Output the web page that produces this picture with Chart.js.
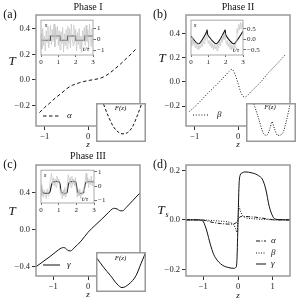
<!DOCTYPE html>
<html><head><meta charset="utf-8">
<script src="https://cdn.jsdelivr.net/npm/chart.js@4/dist/chart.umd.min.js"></script>
<style>
html,body{margin:0;padding:0;background:#fff;width:300px;height:300px;overflow:hidden}
#root{position:relative;width:300px;height:300px}
canvas{position:absolute;display:block}
</style></head><body>
<div id="root"></div>
<script>
// ---------- main panels ----------
const zA = [-1.12,-1.0,-0.88,-0.75,-0.6,-0.49,-0.35,-0.2,-0.11,0,0.15,0.28,0.42,0.58,0.75,0.89,1.0,1.1];
const tA = [-0.255,-0.215,-0.18,-0.14,-0.1,-0.068,-0.04,-0.022,-0.013,-0.005,0.004,0.013,0.035,0.075,0.125,0.17,0.205,0.24];
const zB = [-1.12,-0.9,-0.7,-0.5,-0.3,-0.2,-0.145,-0.1,-0.05,0,0.05,0.1,0.16,0.22,0.3,0.5,0.7,0.9,1.09];
const tB = [-0.245,-0.17,-0.095,-0.025,0.05,0.09,0.105,0.09,0.045,-0.01,-0.07,-0.11,-0.125,-0.11,-0.08,-0.01,0.075,0.15,0.225];
const zC = [-1.5,-1.3,-1.1,-0.95,-0.85,-0.76,-0.7,-0.64,-0.57,-0.5,-0.4,-0.2,0,0.2,0.4,0.6,0.7,0.76,0.85,0.93,1.0,1.1,1.3,1.5];
const tC = [-0.405,-0.35,-0.295,-0.25,-0.22,-0.2,-0.196,-0.205,-0.23,-0.232,-0.2,-0.125,-0.03,0.045,0.115,0.19,0.225,0.232,0.222,0.205,0.205,0.24,0.32,0.40];
const zD = [-1.5,-1.2,-1.05,-1.0,-0.9,-0.8,-0.7,-0.6,-0.5,-0.4,-0.3,-0.2,-0.12,-0.06,-0.03,0,0.03,0.06,0.12,0.2,0.3,0.4,0.5,0.6,0.7,0.8,0.9,1.0,1.05,1.2,1.5];
const alphaD = [0,0,0,-0.001,-0.004,-0.008,-0.011,-0.013,-0.015,-0.016,-0.017,-0.017,-0.016,-0.012,-0.008,0,0.008,0.012,0.014,0.014,0.013,0.012,0.011,0.009,0.007,0.005,0.003,0.001,0,0,0];
const betaD = [0,0,0,0,-0.001,-0.002,-0.003,-0.004,-0.005,-0.006,-0.008,-0.012,-0.02,-0.04,-0.05,0,0.055,0.04,0.02,0.01,0.006,0.005,0.004,0.003,0.002,0.002,0.001,0,0,0,0];
const gammaD = [0,0,-0.002,-0.007,-0.045,-0.098,-0.14,-0.163,-0.178,-0.187,-0.192,-0.195,-0.196,-0.192,-0.16,-0.01,0.14,0.18,0.19,0.194,0.193,0.19,0.186,0.178,0.165,0.125,0.055,0.015,0.005,0.001,0];

const xTicksAB = [-1,0], xLabelsAB = ['\u22121','0'];
const xTicksC = [-1,0], xLabelsC = ['\u22121','0'];
const xTicksD = [-1,0,1], xLabelsD = ['\u22121','0','1'];
const yTicksAB = [-0.2,0,0.2,0.4], yLabelsAB = ['\u22120.2','0.0','0.2','0.4'];
const yTicksC = [-0.4,0,0.4], yLabelsC = ['\u22120.4','0.0','0.4'];
const yTicksD = [-0.2,0,0.2], yLabelsD = ['\u22120.2','0.0','0.2'];

// ---------- time-series insets ----------
const tNoise = [0,0.05,0.1,0.15,0.2,0.25,0.3,0.35,0.4,0.45,0.5,0.55,0.6,0.65,0.7,0.75,0.8,0.85,0.9,0.95,1,1.05,1.1,1.15,1.2,1.25,1.3,1.35,1.4,1.45,1.5,1.55,1.6,1.65,1.7,1.75,1.8,1.85,1.9,1.95,2,2.05,2.1,2.15,2.2,2.25,2.3,2.35,2.4,2.45,2.5,2.55,2.6,2.65,2.7,2.75,2.8,2.85,2.9,2.95,3];
const noiseA = [0.5,-0.9,1.0,-0.6,0.3,-1.1,0.8,-0.3,1.2,-0.8,0.4,1.3,-0.5,0.9,-0.2,1.4,-0.7,1.1,0.0,1.2,-0.6,0.8,-1.0,0.7,-0.4,1.1,-1.2,0.5,-0.6,0.9,-0.9,1.2,-0.4,1.0,-0.8,1.4,0.1,-0.6,1.3,-0.3,0.9,-1.1,0.6,-0.5,1.0,-0.9,0.3,-1.2,0.8,-0.2,1.1,-0.6,1.3,-0.2,0.9,-0.9,1.4,0.2,-0.7,1.0,-0.4];
const noiseB = [-0.05,-0.3,0.1,-0.25,-0.1,-0.4,-0.15,-0.45,-0.2,-0.5,-0.3,-0.4,-0.15,-0.35,-0.05,-0.2,0.1,-0.05,0.25,0.0,-0.2,-0.05,-0.3,-0.1,-0.4,-0.2,-0.5,-0.25,-0.45,-0.3,-0.55,-0.2,-0.4,-0.1,-0.3,0.05,-0.15,0.2,0.0,0.3,-0.05,-0.25,-0.05,-0.35,-0.15,-0.45,-0.2,-0.5,-0.3,-0.45,-0.25,-0.4,-0.1,0.5,0.3,0.7,0.45,0.8,0.5,0.75,0.6];
const noiseC = [0.1,-0.7,-0.2,-0.8,-0.3,-0.6,-0.9,-0.2,-0.7,-0.4,0.2,0.6,0.9,0.1,0.6,0.0,0.5,-0.1,0.7,0.2,0.5,0.0,-0.6,-0.2,-0.9,-0.3,-0.7,-0.1,-0.8,-0.4,0.3,0.8,0.2,0.6,-0.1,0.7,0.1,0.5,0.0,0.6,-0.2,-0.8,-0.3,-0.7,-0.2,-0.9,-0.4,-0.6,-0.1,-0.5,0.4,0.9,0.2,0.6,-0.1,0.5,0.1,0.7,0.0,0.4,0.2];
const tSqA = [0,0.54,0.54,1.1,1.1,1.53,1.53,2.0,2.0,2.52,2.52,3];
const sSqA = [-0.1,-0.1,0.3,0.3,-0.1,-0.1,0.3,0.3,-0.1,-0.1,0.3,0.3];
const tSawB = [0,0.1,0.2,0.3,0.4,0.5,0.6,0.7,0.8,0.9,0.93,0.96,1.1,1.25,1.4,1.5,1.6,1.7,1.8,1.9,1.97,2.0,2.1,2.25,2.4,2.5,2.6,2.7,2.8,2.9,3.0];
const sSawB = [0.15,0.04,-0.06,-0.15,-0.21,-0.19,-0.08,0.05,0.19,0.36,0.44,0.22,0.06,-0.09,-0.2,-0.2,-0.1,0.03,0.17,0.33,0.44,0.22,0.08,-0.07,-0.19,-0.21,-0.12,0.0,0.12,0.25,0.38];
const tSmC = [0,0.05,0.1,0.15,0.45,0.52,0.6,0.68,1.02,1.08,1.13,1.2,1.45,1.5,1.55,1.62,1.95,2.0,2.05,2.1,2.38,2.44,2.5,2.56,2.9,3.0];
const sSmC = [-0.05,-0.3,-0.45,-0.5,-0.5,-0.35,0.1,0.28,0.3,0.1,-0.3,-0.48,-0.5,-0.3,0.1,0.28,0.3,0.1,-0.3,-0.48,-0.5,-0.3,0.1,0.28,0.3,0.3];
const tTicks = [0,1,2,3], tLabels = ['0','1','2','3'];
const sTicksAC = [-1,0,1], sLabelsAC = ['\u22121','0','1'];
const sTicksB = [-0.5,0,0.5], sLabelsB = ['\u22120.5','0.0','0.5'];

// ---------- F(z) insets ----------
const zFa = [-1.05,-0.75,-0.45,-0.12,0.06,0.39,0.69,0.99,1.23];
const Fa = [0.97,0.65,0.39,0.24,0.21,0.24,0.39,0.69,0.97];
const zFb = [-1.02,-0.75,-0.45,-0.27,-0.06,0.06,0.2,0.4,0.69,0.96,1.14];
const Fb = [0.97,0.61,0.22,0.17,0.35,0.52,0.35,0.17,0.22,0.61,0.97];
const zFc = [-1.47,-1.05,-0.63,-0.24,0.06,0.48,0.9,1.2,1.47];
const Fc = [0.86,0.62,0.41,0.2,0.11,0.2,0.41,0.71,0.98];

const SERIF = '"Liberation Serif","DejaVu Serif",serif';
const root = document.getElementById('root');
function mk(x,y,w,h){const c=document.createElement('canvas');c.width=w;c.height=h;c.style.left=x+'px';c.style.top=y+'px';c.style.width=w+'px';c.style.height=h+'px';root.appendChild(c);return c;}
function pts(xs,ys){return xs.map((x,i)=>({x:x,y:ys[i]}));}
function overlay(spec){
  return {
    id:'ov',
    beforeDraw(ch){
      const c=ch.ctx,a=ch.chartArea;
      if(spec.fill){c.save();c.fillStyle='#fff';
        if(spec.fill==='all')c.fillRect(0,0,ch.width,ch.height);else c.fillRect(a.left,a.top,a.right-a.left,a.bottom-a.top);c.restore();}
    },
    afterDraw(ch){
      const c=ch.ctx,a=ch.chartArea;c.save();
      if(spec.frame){c.strokeStyle=spec.frame.color;c.lineWidth=spec.frame.width;
        if(spec.fill==='all'){const h=spec.frame.width/2;c.strokeRect(h,h,ch.width-2*h,ch.height-2*h);}
        else c.strokeRect(a.left,a.top,a.right-a.left,a.bottom-a.top);}
      (spec.legend||[]).forEach(l=>{const ds=ch.data.datasets[l.ds];c.beginPath();c.setLineDash(ds.borderDash||[]);
        c.strokeStyle=ds.borderColor;c.lineWidth=ds.borderWidth;c.moveTo(l.x1-spec.ox,l.y-spec.oy);c.lineTo(l.x2-spec.ox,l.y-spec.oy);c.stroke();c.setLineDash([]);
        c.font='italic 9px '+SERIF;c.fillStyle='#111';c.textAlign='left';c.textBaseline='middle';c.fillText(l.text,l.tx-spec.ox,l.y-spec.oy);});
      (spec.texts||[]).forEach(t=>{c.font=t.font;c.fillStyle='#111';c.textAlign=t.align||'center';c.textBaseline='middle';c.fillText(t.text,t.x-spec.ox,t.y-spec.oy);});
      c.restore();
    }
  };
}
const base = {responsive:false,animation:false,devicePixelRatio:1,events:[],plugins:{legend:{display:false},tooltip:{enabled:false},title:{display:false}}};
function mainChart(ox,oy,p){
  const cv=mk(ox,oy,150,150);
  return new Chart(cv,{type:'line',data:{datasets:p.datasets},
    options:Object.assign({},base,{
      layout:{padding:{left:10,right:10,top:15,bottom:0}},
      scales:{
        x:{type:'linear',min:p.xMin,max:p.xMax,
          afterBuildTicks:s=>{s.ticks=p.xTicks.map(v=>({value:v}));},
          afterFit:s=>{s.height=24;},
          grid:{drawOnChartArea:false,drawTicks:true,tickLength:4,color:'#333',lineWidth:1},
          border:{display:false},
          ticks:{autoSkip:false,maxRotation:0,padding:2,color:'#222',font:{family:SERIF,size:8.5},callback:(v,i)=>p.xLabels[i]}},
        y:{type:'linear',min:p.yMin,max:p.yMax,
          afterBuildTicks:s=>{s.ticks=p.yTicks.map(v=>({value:v}));},
          afterFit:s=>{s.width=26;},
          grid:{drawOnChartArea:false,drawTicks:true,tickLength:4,color:'#333',lineWidth:1},
          border:{display:false},
          ticks:{autoSkip:false,padding:2,color:'#222',font:{family:SERIF,size:8.5},callback:(v,i)=>p.yLabels[i]}}
      }}),
    plugins:[overlay({ox:ox,oy:oy,frame:{color:'#999',width:1.5},texts:p.texts,legend:p.legend})]});
}
function topInset(ox,oy,w,h,boxH,yW,p){
  const cv=mk(ox,oy,w,h);
  return new Chart(cv,{type:'line',data:{datasets:[
      {data:pts(tNoise,p.noise),borderColor:'#c4c4c4',borderWidth:0.7,pointRadius:0,tension:0},
      {data:pts(p.tb,p.sb),borderColor:'#111',borderWidth:1.1,pointRadius:0,tension:p.tension||0}]},
    options:Object.assign({},base,{
      layout:{padding:{left:5,right:0,top:4,bottom:0}},
      scales:{
        x:{type:'linear',min:0,max:3,
          afterBuildTicks:s=>{s.ticks=tTicks.map(v=>({value:v}));},
          afterFit:s=>{s.height=h-4-boxH;},
          grid:{drawOnChartArea:false,drawTicks:true,tickLength:2,color:'#444',lineWidth:0.8},
          border:{display:false},
          ticks:{autoSkip:false,maxRotation:0,padding:1,color:'#222',font:{family:SERIF,size:7},callback:(v,i)=>tLabels[i]}},
        y:{type:'linear',position:'right',min:p.yMin,max:p.yMax,
          afterBuildTicks:s=>{s.ticks=p.yTicks.map(v=>({value:v}));},
          afterFit:s=>{s.width=yW;},
          grid:{drawOnChartArea:false,drawTicks:true,tickLength:3,color:'#444',lineWidth:0.8},
          border:{display:false},
          ticks:{autoSkip:false,padding:1,color:'#222',font:{family:SERIF,size:7},callback:(v,i)=>p.yLabels[i]}}
      }}),
    plugins:[overlay({ox:ox,oy:oy,fill:'area',frame:{color:'#aaa',width:1},texts:p.texts})]});
}
function fInset(ox,oy,w,h,zs,fs,dash,lx,ly){
  const cv=mk(ox,oy,w,h);
  return new Chart(cv,{type:'line',data:{datasets:[{data:pts(zs,fs),borderColor:'#111',borderWidth:1,borderDash:dash,pointRadius:0,cubicInterpolationMode:'monotone'}]},
    options:Object.assign({},base,{layout:{padding:0},
      scales:{x:{type:'linear',display:false,min:-1.5,max:1.5},y:{type:'linear',display:false,min:0,max:1}}}),
    plugins:[overlay({ox:ox,oy:oy,fill:'all',frame:{color:'#999',width:1.5},texts:[{text:'F(z)',x:lx,y:ly,font:'italic 7px '+SERIF}]})]});
}
const curve=(xs,ys,dash)=>({data:pts(xs,ys),borderColor:'#111',borderWidth:1,borderDash:dash,pointRadius:0,cubicInterpolationMode:'monotone'});

// (a)
mainChart(0,0,{xMin:-1.2,xMax:1.2,yMin:-0.36,yMax:0.508,xTicks:xTicksAB,xLabels:xLabelsAB,yTicks:yTicksAB,yLabels:yLabelsAB,
  datasets:[curve(zA,tA,[3.5,2.5])],
  texts:[{text:'(a)',x:10,y:15,font:'12px '+SERIF},{text:'Phase I',x:88,y:7,font:'10px '+SERIF},
         {text:'T',x:12,y:62,font:'italic 13px '+SERIF},{text:'z',x:88,y:145,font:'italic 9px '+SERIF}],
  legend:[{ds:0,x1:43,x2:60,y:116,tx:67,text:'\u03b1'}]});
// (b)
mainChart(150,0,{xMin:-1.2,xMax:1.2,yMin:-0.364,yMax:0.554,xTicks:xTicksAB,xLabels:xLabelsAB,yTicks:yTicksAB,yLabels:yLabelsAB,
  datasets:[curve(zB,tB,[1,1.8])],
  texts:[{text:'(b)',x:160,y:15,font:'12px '+SERIF},{text:'Phase II',x:238,y:7,font:'10px '+SERIF},
         {text:'T',x:162,y:59,font:'italic 13px '+SERIF},{text:'z',x:238,y:145,font:'italic 9px '+SERIF}],
  legend:[{ds:0,x1:193,x2:209,y:115,tx:217,text:'\u03b2'}]});
// (c)
mainChart(0,150,{xMin:-1.5,xMax:1.5,yMin:-0.506,yMax:0.704,xTicks:xTicksC,xLabels:xLabelsC,yTicks:yTicksC,yLabels:yLabelsC,
  datasets:[curve(zC,tC,[])],
  texts:[{text:'(c)',x:10,y:165,font:'12px '+SERIF},{text:'Phase III',x:88,y:156,font:'10px '+SERIF},
         {text:'T',x:12,y:212,font:'italic 13px '+SERIF},{text:'z',x:88,y:295,font:'italic 9px '+SERIF}],
  legend:[{ds:0,x1:43,x2:60,y:265,tx:67,text:'\u03b3'}]});
// (d)
mainChart(150,150,{xMin:-1.5,xMax:1.5,yMin:-0.227,yMax:0.222,xTicks:xTicksD,xLabels:xLabelsD,yTicks:yTicksD,yLabels:yLabelsD,
  datasets:[curve(zD,alphaD,[4,1.5,1,1.5]),curve(zD,betaD,[1,1.5]),curve(zD,gammaD,[])],
  texts:[{text:'(d)',x:160,y:165,font:'12px '+SERIF},
         {text:'T',x:161,y:211,font:'italic 13px '+SERIF},{text:'s',x:167,y:215,font:'italic 8px '+SERIF},
         {text:'z',x:238,y:296,font:'italic 9px '+SERIF}],
  legend:[{ds:0,x1:256,x2:266,y:241,tx:271,text:'\u03b1'},{ds:1,x1:256,x2:266,y:253,tx:271,text:'\u03b2'},{ds:2,x1:256,x2:266,y:264,tx:271,text:'\u03b3'}]});

// top insets
topInset(36,15,72,52,36,15,{noise:noiseA,tb:tSqA,sb:sSqA,yMin:-1.46,yMax:1.76,yTicks:sTicksAC,yLabels:sLabelsAC,
  texts:[{text:'s',x:46,y:25,font:'italic 7px '+SERIF},{text:'t/\u03c4',x:86,y:49,font:'italic 7px '+SERIF}]});
topInset(186,15,76,52,36,19,{noise:noiseB,tb:tSawB,sb:sSawB,tension:0.2,yMin:-0.74,yMax:0.9,yTicks:sTicksB,yLabels:sLabelsB,
  texts:[{text:'s',x:195,y:25,font:'italic 7px '+SERIF},{text:'t/\u03c4',x:236,y:50,font:'italic 7px '+SERIF}]});
topInset(36,165,73,50,34,15,{noise:noiseC,tb:tSmC,sb:sSmC,tension:0.3,yMin:-1.2,yMax:1.12,yTicks:sTicksAC,yLabels:sLabelsAC,
  texts:[{text:'s',x:45,y:175,font:'italic 7px '+SERIF},{text:'t/\u03c4',x:85,y:199,font:'italic 7px '+SERIF}]});

// F(z) insets
fInset(96,103,50,39,zFa,Fa,[3,2],120.5,108);
fInset(246,103,50,39,zFb,Fb,[1,1.5],270,107);
fInset(96,252,50,40,zFc,Fc,[],120.5,258);
</script>
</body></html>
